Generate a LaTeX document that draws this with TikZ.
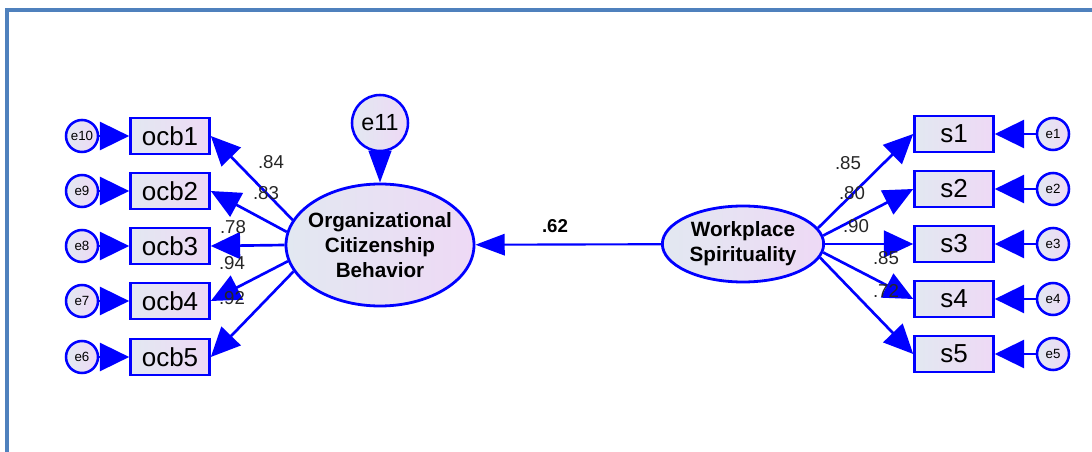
\documentclass[tikz,border=0pt]{standalone}
\usepackage{fontspec}
\setmainfont{Liberation Sans}
\usetikzlibrary{arrows.meta,shapes.geometric}
\definecolor{amosblue}{RGB}{0,0,255}
\definecolor{framebl}{RGB}{79,129,189}
\definecolor{shadel}{RGB}{226,232,241}
\definecolor{shader}{RGB}{238,217,245}

\begin{document}
\begin{tikzpicture}[x=0.75pt,y=-0.75pt,
  obs/.style={draw=amosblue, line width=2.2pt, left color=shadel, right color=shader,
    minimum width=59pt, minimum height=27pt, inner sep=0pt, font=\fontsize{19.5}{19.5}\selectfont},
  err/.style={circle, draw=amosblue, line width=1.9pt, left color=shadel, right color=shader,
    minimum size=24pt, inner sep=0pt, font=\fontsize{10}{10}\selectfont},
  lat/.style={ellipse, draw=amosblue, line width=2.1pt, left color=shadel, right color=shader, inner sep=0pt},
  lattext/.style={align=center, font=\fontsize{15.5}{18.8}\selectfont\bfseries},
  path/.style={draw=amosblue, line width=2pt, -{Triangle[length=22pt,width=20pt]}},
  errpath/.style={draw=amosblue, line width=2pt, -{Triangle[length=22pt,width=21pt]}},
  est/.style={font=\fontsize{14}{14}\selectfont, text=black!85}
]
\useasboundingbox (0,0) rectangle (1092,452);
\draw[framebl, line width=3pt] (1092,10) -- (7,10) -- (7,452);

% latent variables
\node[lat, minimum width=141pt, minimum height=91.5pt,
  label={[lattext]center:Organizational\\Citizenship\\Behavior}] (ocb) at (380,245) {};
\node[lat, minimum width=121pt, minimum height=57pt,
  label={[lattext]center:Workplace\\Spirituality}] (ws) at (743,244) {};
\node[err, minimum size=42pt, font=\fontsize{17.5}{17.5}\selectfont] (e11) at (380,123) {e11};
\draw[errpath, -{Triangle[length=24pt,width=17pt]}] (e11) -- (ocb);
\draw[path, line width=1.6pt, -{Triangle[length=22pt,width=16pt]}] (ws) -- (ocb);

% ocb indicators
\foreach \i/\y/\e/\a in {1/136/10/164, 2/191/9/172, 3/246/8/180, 4/301/7/190, 5/357/6/197} {
  \node[obs] (ocb\i) at (170,\y) {ocb\i};
  \node[err] (e\e) at (82,\y) {e\e};
  \draw[errpath] (e\e) -- (ocb\i);
  \draw[path] (ocb.\a) -- (ocb\i.east);
}

% spirituality indicators
\foreach \i/\y/\a in {1/134/12, 2/189/6, 3/244/0, 4/299/354, 5/354/350} {
  \node[obs] (s\i) at (954,\y) {s\i};
  \node[err] (e\i) at (1053,\y) {e\i};
  \draw[errpath] (e\i) -- (s\i);
  \draw[path] (ws.\a) -- (s\i.west);
}

% standardized estimates
\foreach \t/\x/\y [count=\k] in {.84/271/162, .83/266/193, .78/233/227, .94/232/263, .92/232/298,
    .85/848/163, .80/852/193, .90/856/226, .85/886/258, .72/886/291}
  \node[est] (est\k) at (\x,\y) {\t};
\node[est, font=\fontsize{14}{14}\selectfont\bfseries, text=black] (estpath) at (555,226) {.62};
\end{tikzpicture}
\end{document}
